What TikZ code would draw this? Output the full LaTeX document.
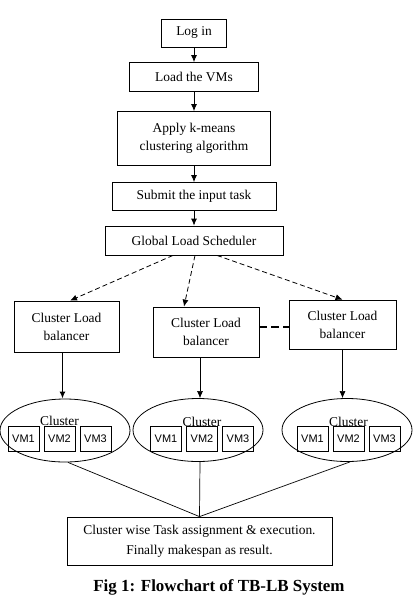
\documentclass[tikz,border=0pt]{standalone}
\usepackage{fontspec}
\setmainfont{Liberation Serif}
\newfontfamily\vmfont{Liberation Sans}
\usetikzlibrary{shapes.geometric,arrows.meta}
\tikzstyle{process} = [rectangle, draw, line width=0.8bp, text centered, align=center, inner sep=0pt, font=\fontsize{13.5}{18}\selectfont]
\tikzstyle{cluster} = [ellipse, draw, line width=0.8bp, minimum width=130bp, minimum height=63bp]
\tikzstyle{vm} = [rectangle, draw, line width=0.8bp, minimum width=31bp, minimum height=25bp, inner sep=0pt, font=\vmfont\fontsize{11}{13}\selectfont]
\tikzstyle{label} = [anchor=base, inner sep=0pt, font=\fontsize{13.5}{15}\selectfont]
\tikzstyle{connector} = [line width=0.8bp, -{Latex[length=7bp,width=6bp]}]
\tikzstyle{flow} = [line width=0.8bp, dashed, dash pattern=on 5bp off 3bp, -{Latex[length=7bp,width=6bp]}]
\tikzstyle{link} = [line width=0.7bp]

\begin{document}
\begin{tikzpicture}[x=1bp, y=-1bp, node distance=44bp]
        \useasboundingbox (0,0) rectangle (415,599);
        \node (login) [process, minimum width=65bp, minimum height=28bp] at (194,33) {Log in};
        \node (load) [process, below of = login, minimum width=129bp, minimum height=29bp] {Load the VMs};
        \node (kmeans) [process, below of = load, yshift = -17.5bp, minimum width=153bp, minimum height=54bp] {Apply k-means\\clustering algorithm};
        \node (submit) [process, below of = kmeans, yshift = -14bp, minimum width=164bp, minimum height=28bp] {Submit the input task};
        \node (global) [process, below of = submit, minimum width=178bp, minimum height=29bp] {Global Load Scheduler};
        \node (clb-2) [process, below of = global, xshift = 12bp, yshift = -47.5bp, minimum width=106bp, minimum height=50bp] {Cluster Load\\balancer};
        \node (clb-1) [process, left of = clb-2, xshift = -95.5bp, yshift = 5.5bp, minimum width=105bp, minimum height=51bp] {Cluster Load\\balancer};
        \node (clb-3) [process, right of = clb-2, xshift = 92.5bp, yshift = 7.5bp, minimum width=107bp, minimum height=49bp] {Cluster Load\\balancer};
        \node (cl-1) [cluster, below of = clb-1, xshift = -1.5bp, yshift = -60bp] {};
        \node (cl-2) [cluster, below of = clb-2, xshift = -8bp, yshift = -54bp] {};
        \node (cl-3) [cluster, below of = clb-3, xshift = 4.5bp, yshift = -61.5bp] {};
        % virtual machines in each cluster
        \node (vm-1-2) [vm, xshift = -5.5bp, yshift = -8bp] at (cl-1) {VM2};
        \node (vm-1-1) [vm, left of = vm-1-2, node distance = 36bp] {VM1};
        \node (vm-1-3) [vm, right of = vm-1-2, node distance = 36bp] {VM3};
        \node (lbl-1) [label] at (vm-1-2.north) {Cluster};
        \node (vm-2-2) [vm, xshift = 4bp, yshift = -9bp] at (cl-2) {VM2};
        \node (vm-2-1) [vm, left of = vm-2-2, node distance = 36bp] {VM1};
        \node (vm-2-3) [vm, right of = vm-2-2, node distance = 36bp] {VM3};
        \node (lbl-2) [label] at (vm-2-2.north) {Cluster};
        \node (vm-3-2) [vm, xshift = 1.5bp, yshift = -9bp] at (cl-3) {VM2};
        \node (vm-3-1) [vm, left of = vm-3-2, node distance = 36bp] {VM1};
        \node (vm-3-3) [vm, right of = vm-3-2, node distance = 36bp] {VM3};
        \node (lbl-3) [label] at (vm-3-2.north) {Cluster};
        \node (result) [process, below of = cl-2, xshift = 1.5bp, yshift = -67bp, minimum width=265bp, minimum height=48bp, font=\fontsize{13.5}{20}\selectfont] {Cluster wise Task assignment \& execution.\\Finally makespan as result.};
        \node (caption) [below of = result, xshift = 19.5bp, yshift = -2bp, font=\bfseries\fontsize{17}{20}\selectfont] {Fig 1: Flowchart of TB-LB System};
        \draw [connector] (login) -- (load);
        \draw [connector] (load) -- (kmeans);
        \draw [connector] (kmeans) -- (submit);
        \draw [connector] (submit) -- (global);
        \draw [flow] ([xshift=-21bp]global.south) -- ([xshift=3.5bp]clb-1.north);
        \draw [flow] ([xshift=1bp]global.south) -- ([xshift=-22bp]clb-2.north);
        \draw [flow] ([xshift=23bp]global.south) -- (clb-3.north);
        \draw [line width=1.6bp, dash pattern=on 8bp off 4bp] ([yshift=5bp]clb-2.east) -- ([yshift=5bp]clb-2.east -| clb-3.west);
        \draw [connector, line width=1.5bp] ([xshift=-4bp]clb-1.south) -- ([xshift=-4bp]clb-1.south |- cl-1.north);
        \draw [connector, line width=0.6bp] ([xshift=-6bp]clb-2.south) -- ([xshift=-6bp]clb-2.south |- cl-2.north);
        \draw [connector, line width=0.6bp] (clb-3.south) -- (clb-3.south |- cl-3.north);
        \draw [link] ([xshift=3bp]cl-1.south) -- (result.north);
        \draw [link] ([xshift=2bp]cl-2.south) -- (result.north);
        \draw [link] ([xshift=3bp]cl-3.south) -- (result.north);
    \end{tikzpicture}
\end{document}
